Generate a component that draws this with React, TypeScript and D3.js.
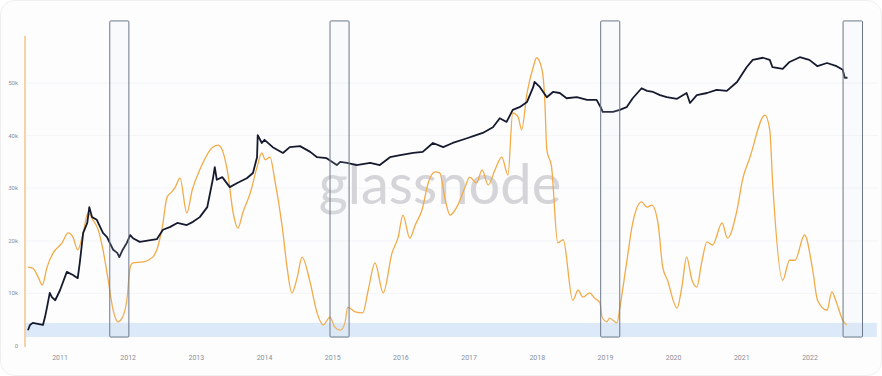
import React, { useRef, useEffect } from 'react';
import * as d3 from 'd3';

// decimal year, value (k) — black series
const priceYears = [2010.53, 2010.56, 2010.6, 2010.75, 2010.78, 2010.81, 2010.85, 2010.88, 2010.93, 2011.0, 2011.1, 2011.19, 2011.26, 2011.29, 2011.34, 2011.4, 2011.43, 2011.47, 2011.54, 2011.59, 2011.63, 2011.69, 2011.73, 2011.78, 2011.84, 2011.87, 2011.92, 2011.98, 2012.03, 2012.07, 2012.17, 2012.42, 2012.51, 2012.61, 2012.72, 2012.86, 2012.95, 2013.05, 2013.16, 2013.24, 2013.27, 2013.3, 2013.38, 2013.49, 2013.6, 2013.74, 2013.83, 2013.89, 2013.9, 2013.96, 2014.0, 2014.12, 2014.27, 2014.37, 2014.52, 2014.67, 2014.77, 2014.91, 2015.06, 2015.11, 2015.21, 2015.35, 2015.55, 2015.69, 2015.84, 2015.99, 2016.18, 2016.32, 2016.47, 2016.62, 2016.76, 2016.97, 2017.06, 2017.2, 2017.35, 2017.45, 2017.55, 2017.64, 2017.74, 2017.85, 2017.94, 2017.96, 2018.04, 2018.14, 2018.23, 2018.33, 2018.43, 2018.58, 2018.73, 2018.87, 2018.93, 2018.96, 2019.11, 2019.21, 2019.31, 2019.4, 2019.53, 2019.61, 2019.7, 2019.8, 2019.9, 2020.05, 2020.19, 2020.24, 2020.34, 2020.49, 2020.63, 2020.78, 2020.93, 2021.07, 2021.16, 2021.31, 2021.41, 2021.45, 2021.6, 2021.7, 2021.85, 2021.99, 2022.11, 2022.25, 2022.39, 2022.48, 2022.51, 2022.55];
const priceValues = [3.0, 4.0, 4.4, 4.0, 5.5, 7.4, 10.1, 9.3, 8.7, 10.6, 14.1, 13.5, 12.9, 15.8, 21.5, 23.4, 26.4, 24.5, 24.0, 22.6, 21.5, 20.7, 19.6, 18.3, 17.7, 16.9, 18.3, 19.6, 21.1, 20.5, 19.8, 20.3, 22.1, 22.6, 23.4, 23.0, 23.6, 24.5, 26.4, 31.6, 34.0, 31.6, 32.1, 30.2, 31.0, 31.9, 32.9, 35.9, 40.1, 38.6, 39.2, 37.8, 36.7, 37.8, 38.0, 36.9, 35.9, 35.7, 34.4, 35.0, 34.8, 34.4, 34.8, 34.4, 35.9, 36.3, 36.7, 36.9, 38.6, 37.8, 38.6, 39.5, 39.9, 40.5, 41.6, 43.3, 42.6, 44.9, 45.4, 46.4, 49.2, 50.2, 49.2, 47.3, 48.3, 48.1, 47.1, 47.3, 46.8, 46.8, 45.4, 44.5, 44.5, 44.9, 45.4, 47.1, 49.0, 48.5, 48.3, 47.7, 47.3, 47.0, 48.1, 46.2, 47.7, 48.1, 48.7, 48.5, 50.2, 53.0, 54.4, 54.8, 54.4, 53.0, 52.7, 54.0, 54.9, 54.4, 53.2, 53.8, 53.2, 52.5, 51.0, 51.0];

// decimal year, value (k) — orange series
const metricYears = [2010.53, 2010.6, 2010.68, 2010.74, 2010.81, 2010.9, 2011.03, 2011.12, 2011.19, 2011.26, 2011.34, 2011.41, 2011.48, 2011.56, 2011.63, 2011.7, 2011.78, 2011.85, 2011.91, 2011.98, 2012.03, 2012.07, 2012.22, 2012.36, 2012.42, 2012.5, 2012.57, 2012.64, 2012.69, 2012.76, 2012.86, 2012.94, 2013.05, 2013.24, 2013.32, 2013.39, 2013.46, 2013.54, 2013.61, 2013.68, 2013.79, 2013.89, 2013.96, 2014.01, 2014.08, 2014.15, 2014.26, 2014.33, 2014.4, 2014.48, 2014.55, 2014.67, 2014.77, 2014.86, 2014.96, 2015.03, 2015.11, 2015.18, 2015.22, 2015.33, 2015.44, 2015.52, 2015.62, 2015.74, 2015.87, 2015.96, 2016.03, 2016.13, 2016.21, 2016.31, 2016.4, 2016.5, 2016.57, 2016.65, 2016.72, 2016.82, 2016.94, 2017.01, 2017.11, 2017.19, 2017.28, 2017.38, 2017.48, 2017.57, 2017.64, 2017.72, 2017.77, 2017.85, 2017.94, 2017.99, 2018.07, 2018.11, 2018.14, 2018.21, 2018.3, 2018.38, 2018.52, 2018.6, 2018.67, 2018.77, 2018.84, 2018.92, 2018.95, 2019.02, 2019.06, 2019.17, 2019.21, 2019.31, 2019.4, 2019.53, 2019.61, 2019.68, 2019.77, 2019.84, 2019.91, 2020.05, 2020.12, 2020.19, 2020.27, 2020.34, 2020.41, 2020.49, 2020.57, 2020.71, 2020.79, 2020.93, 2021.01, 2021.12, 2021.34, 2021.41, 2021.45, 2021.6, 2021.7, 2021.78, 2021.92, 2022.04, 2022.11, 2022.25, 2022.32, 2022.39, 2022.48, 2022.54];
const metricValues = [15.0, 14.8, 13.1, 11.6, 15.0, 17.7, 19.6, 21.5, 20.7, 18.3, 21.5, 25.3, 24.0, 22.1, 18.3, 13.1, 6.8, 4.6, 5.3, 8.7, 15.0, 15.8, 16.0, 16.9, 18.3, 22.6, 28.3, 29.3, 30.2, 31.9, 25.3, 29.7, 33.5, 37.8, 38.2, 36.9, 32.9, 25.3, 22.4, 25.3, 29.1, 34.0, 36.7, 35.4, 35.9, 31.6, 22.6, 15.0, 10.1, 13.1, 16.9, 12.0, 6.3, 4.0, 5.5, 3.6, 3.0, 4.4, 7.4, 6.5, 6.3, 10.6, 15.8, 10.1, 17.7, 20.7, 24.9, 20.5, 23.0, 25.9, 31.0, 33.1, 32.9, 27.8, 24.9, 26.4, 30.2, 32.1, 31.0, 33.5, 30.6, 33.5, 35.9, 32.5, 44.3, 43.5, 41.1, 48.1, 53.0, 54.8, 52.5, 46.8, 37.3, 34.0, 19.6, 20.2, 8.7, 10.6, 9.3, 10.1, 9.1, 8.2, 5.5, 4.6, 5.3, 4.4, 7.2, 15.8, 23.4, 27.4, 26.4, 26.8, 23.4, 15.0, 12.5, 7.2, 11.2, 16.9, 12.5, 11.2, 15.8, 19.8, 19.2, 23.4, 20.5, 25.9, 31.6, 35.9, 43.9, 41.1, 31.6, 12.5, 16.3, 16.3, 21.1, 14.4, 8.7, 6.8, 10.3, 8.2, 4.9, 4.0];

const yearTicks = [2011, 2012, 2013, 2014, 2015, 2016, 2017, 2018, 2019, 2020, 2021, 2022];
const valueTicks = [0, 10, 20, 30, 40, 50];
const valueTickLabels = ['0', '10k', '20k', '30k', '40k', '50k'];

// highlighted windows [start, end] in decimal years
const windowStarts = [2011.73, 2014.96, 2018.93, 2022.485];
const windowEnds = [2012.01, 2015.24, 2019.21, 2022.77];
const windowRange = [1.7, 61.8];
const bandRange = [1.7, 4.4];
const bandYears = [2010.49, 2022.98];

export default function App() {
  const ref = useRef(null);
  const width = 882;
  const height = 376;

  useEffect(() => {
    const svg = d3.select(ref.current);
    svg.selectAll('*').remove();

    const x = d3.scaleLinear().domain([2011, 2022]).range([60, 810]);
    const y = d3.scaleLinear().domain([0, 59]).range([346, 346 - 59 * 5.26]);

    svg.append('rect')
      .attr('x', 0.5).attr('y', 0.5)
      .attr('width', width - 1).attr('height', height - 1)
      .attr('rx', 14)
      .attr('fill', '#fdfdfe')
      .attr('stroke', '#efefef');

    // faint grid
    svg.append('g')
      .selectAll('line')
      .data(valueTicks.slice(1))
      .join('line')
      .attr('x1', 26).attr('x2', 878)
      .attr('y1', d => y(d)).attr('y2', d => y(d))
      .attr('stroke', '#f3f5f8');

    // watermark
    svg.append('text')
      .attr('x', 440).attr('y', 204)
      .attr('text-anchor', 'middle')
      .attr('font-family', 'Lato, "Open Sans", sans-serif')
      .attr('font-size', 56)
      .attr('fill', '#cfcfd3')
      .attr('opacity', 0.85)
      .text('glassnode');

    // low zone band
    svg.append('rect')
      .attr('x', x(bandYears[0]))
      .attr('y', y(bandRange[1]))
      .attr('width', x(bandYears[1]) - x(bandYears[0]))
      .attr('height', y(bandRange[0]) - y(bandRange[1]))
      .attr('fill', '#dce9f8');

    // left axis
    svg.append('line')
      .attr('x1', 25).attr('x2', 25)
      .attr('y1', y(59)).attr('y2', y(0) + 1)
      .attr('stroke', '#f3c58a')
      .attr('stroke-width', 1.5);

    svg.append('g')
      .selectAll('text')
      .data(valueTicks)
      .join('text')
      .attr('x', 18)
      .attr('y', d => y(d) + 2)
      .attr('text-anchor', 'end')
      .attr('font-family', 'Roboto, sans-serif')
      .attr('font-size', 6)
      .attr('fill', '#8a8f99')
      .text((d, i) => valueTickLabels[i]);

    svg.append('g')
      .selectAll('text')
      .data(yearTicks)
      .join('text')
      .attr('x', d => x(d))
      .attr('y', 360)
      .attr('text-anchor', 'middle')
      .attr('font-family', 'Roboto, sans-serif')
      .attr('font-size', 7)
      .attr('fill', '#8a8f99')
      .text(d => String(d));

    const metric = metricYears.map((t, i) => [t, metricValues[i]]);
    const price = priceYears.map((t, i) => [t, priceValues[i]]);
    const line = d3.line().x(d => x(d[0])).y(d => y(d[1])).curve(d3.curveMonotoneX);

    svg.append('path')
      .datum(metric)
      .attr('d', line)
      .attr('fill', 'none')
      .attr('stroke', '#f2ab48')
      .attr('stroke-width', 1.3);

    svg.append('path')
      .datum(price)
      .attr('d', d3.line().x(d => x(d[0])).y(d => y(d[1])))
      .attr('fill', 'none')
      .attr('stroke', '#161a2e')
      .attr('stroke-width', 1.8)
      .attr('stroke-linejoin', 'round');

    // highlighted windows
    svg.append('g')
      .selectAll('rect')
      .data(windowStarts)
      .join('rect')
      .attr('x', d => x(d))
      .attr('y', y(windowRange[1]))
      .attr('width', (d, i) => x(windowEnds[i]) - x(d))
      .attr('height', y(windowRange[0]) - y(windowRange[1]))
      .attr('rx', 1)
      .attr('fill', 'rgba(220,228,240,0.12)')
      .attr('stroke', '#6c7889')
      .attr('stroke-width', 1);
  }, []);

  return (
    <svg
      ref={ref}
      width={width}
      height={height}
      style={{ position: 'absolute', left: 0, top: 0, display: 'block' }}
    />
  );
}
